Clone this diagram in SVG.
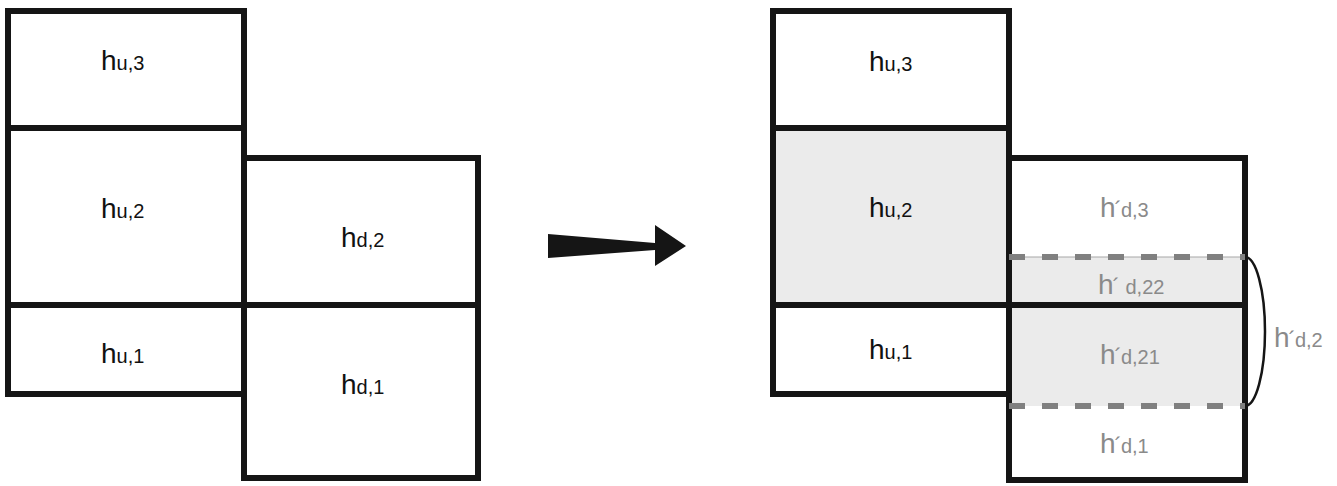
<svg xmlns="http://www.w3.org/2000/svg" width="1337" height="486" viewBox="0 0 1337 486">
<style>
.cell{fill:#fff;stroke:#151515;stroke-width:6}
.shade{fill:#ebebeb}
.lbl{font-family:"Liberation Sans",Arial,Helvetica,sans-serif;font-size:28px;fill:#111}
.g{fill:#8a8a8a}
.sub{font-size:20px}
.acc{font-size:22px}
.dash{stroke:#808080;stroke-width:6;stroke-dasharray:16 17;fill:none}
.thin{stroke:#a8a8a8;stroke-width:1.2;fill:none}
.edge{stroke:#151515;stroke-width:6;fill:none}
</style>
<rect width="1337" height="486" fill="#fff"/>

<!-- Left diagram -->
<g id="L_hu3"><rect class="cell" x="8" y="11" width="236" height="117"/><text class="lbl" x="101" y="70">h<tspan class="sub">u,3</tspan></text></g>
<g id="L_hu2"><rect class="cell" x="8" y="128" width="236" height="177"/><text class="lbl" x="101" y="218">h<tspan class="sub">u,2</tspan></text></g>
<g id="L_hu1"><rect class="cell" x="8" y="305" width="236" height="89"/><text class="lbl" x="101" y="363">h<tspan class="sub">u,1</tspan></text></g>
<g id="L_hd2"><rect class="cell" x="244" y="158" width="234" height="147"/><text class="lbl" x="341" y="247">h<tspan class="sub">d,2</tspan></text></g>
<g id="L_hd1"><rect class="cell" x="244" y="305" width="234" height="173"/><text class="lbl" x="341" y="394">h<tspan class="sub">d,1</tspan></text></g>

<!-- Transformation arrow -->
<g id="connectors">
<polygon points="548,234 655,243 655,225 686,246 655,266 655,250 548,258" fill="#151515"/>
</g>

<!-- Right diagram -->
<g id="R_hu3"><rect class="cell" x="773" y="11" width="236" height="117"/><text class="lbl" x="869" y="71">h<tspan class="sub">u,3</tspan></text></g>
<g id="R_hu2"><rect class="cell" x="773" y="128" width="236" height="177" style="fill:#ebebeb"/><text class="lbl" x="869" y="217">h<tspan class="sub">u,2</tspan></text></g>
<g id="R_hu1"><rect class="cell" x="773" y="305" width="236" height="89"/><text class="lbl" x="869" y="359">h<tspan class="sub">u,1</tspan></text></g>

<g id="R_right_column">
<rect x="1009" y="158" width="236" height="322" fill="#fff"/>
<rect class="shade" x="1009" y="257" width="236" height="149"/>
<line class="thin" x1="1009" y1="257" x2="1245" y2="257"/>
<rect class="edge" x="1009" y="158" width="236" height="322"/>
<line class="edge" x1="1009" y1="305" x2="1245" y2="305"/>
</g>
<g id="R_hd3"><text class="lbl g" x="1100" y="217">h<tspan class="acc" dx="-1">´</tspan><tspan class="sub" dx="-1">d,3</tspan></text></g>
<g id="R_hd22"><text class="lbl g" x="1098" y="294">h<tspan class="acc" dx="-1">´</tspan><tspan class="sub"> d,22</tspan></text></g>
<g id="R_hd21"><text class="lbl g" x="1100" y="364">h<tspan class="acc" dx="-1">´</tspan><tspan class="sub" dx="-1">d,21</tspan></text></g>
<g id="R_hd1"><text class="lbl g" x="1100" y="453">h<tspan class="acc" dx="-1">´</tspan><tspan class="sub" dx="-1">d,1</tspan></text></g>

<g id="dashed_bounds">
<line class="dash" x1="1009" y1="257" x2="1245" y2="257"/>
<line class="dash" x1="1009" y1="406" x2="1245" y2="406"/>
</g>

<g id="brace_hd2">
<path d="M1245,257 A20,74.5 0 0 1 1245,406" fill="none" stroke="#151515" stroke-width="2.5"/>
<text class="lbl g" x="1274" y="347">h<tspan class="acc" dx="-1">´</tspan><tspan class="sub" dx="-1">d,2</tspan></text>
</g>
</svg>
